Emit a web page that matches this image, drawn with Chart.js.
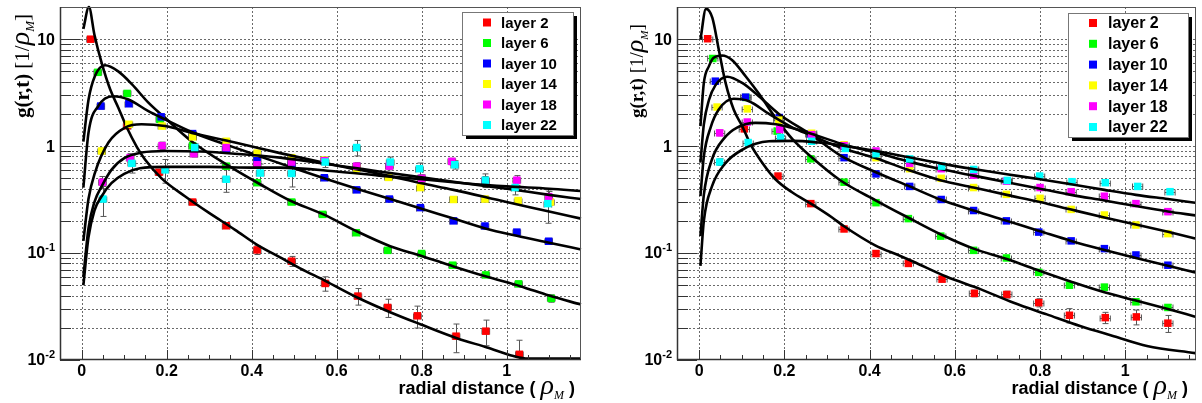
<!DOCTYPE html>
<html>
<head>
<meta charset="utf-8">
<script src="https://cdn.jsdelivr.net/npm/chart.js"></script>
<style>
  body { margin: 0; background: #fff; }
  #wrap { position: relative; width: 1202px; height: 403px; }
  canvas { position: absolute; top: 0; }
</style>
</head>
<body>
<div id="wrap">
  <canvas id="leftChart" width="600" height="403" style="left:0"></canvas>
  <canvas id="rightChart" width="602" height="403" style="left:600px"></canvas>
</div>
<script>
const layerNames = ['layer 2', 'layer 6', 'layer 10', 'layer 14', 'layer 18', 'layer 22'];
const layerColors = ['#ff0000', '#00ff00', '#0000ff', '#ffff00', '#ff00ff', '#00ffff'];
const xTickValues = [0, 0.2, 0.4, 0.6, 0.8, 1];
const xTickLabels = ['0', '0.2', '0.4', '0.6', '0.8', '1'];
const yTickValues = [0.01, 0.1, 1, 10];
const yTickLabels = [['10', '-2'], ['10', '-1'], ['1', ''], ['10', '']];

// ---- left panel, measured points (x, g, error) ----
const lx2 = [0.021, 0.107, 0.182, 0.261, 0.34, 0.413, 0.494, 0.573, 0.65, 0.72, 0.79, 0.881, 0.951, 1.03];
const ly2 = [10, 1.55, 0.57, 0.30, 0.18, 0.107, 0.084, 0.052, 0.0396, 0.031, 0.0259, 0.0167, 0.0186, 0.0113];
const le2 = [0.3, 0.05, 0.02, 0.01, 0.006, 0.01, 0.009, 0.008, 0.007, 0.006, 0.006, 0.005, 0.005, 0.004];
const lx6 = [0.038, 0.107, 0.184, 0.261, 0.34, 0.413, 0.494, 0.567, 0.646, 0.72, 0.80, 0.873, 0.951, 1.028, 1.105];
const ly6 = [4.9, 3.11, 1.78, 1.01, 0.65, 0.455, 0.30, 0.23, 0.155, 0.106, 0.099, 0.077, 0.0625, 0.0515, 0.0377];
const le6 = [0.25, 0.1, 0.06, 0.04, 0.03, 0.02, 0.012, 0.008, 0.006, 0.004, 0.004, 0.003, 0.003, 0.003, 0.003];
const lx10 = [0.045, 0.111, 0.187, 0.261, 0.34, 0.413, 0.494, 0.571, 0.647, 0.724, 0.797, 0.875, 0.949, 1.024, 1.099];
const ly10 = [2.37, 2.49, 1.88, 1.31, 0.92, 0.75, 0.68, 0.506, 0.39, 0.32, 0.266, 0.20, 0.179, 0.157, 0.129];
const le10 = [0.15, 0.1, 0.06, 0.04, 0.03, 0.03, 0.03, 0.02, 0.015, 0.01, 0.01, 0.008, 0.007, 0.007, 0.008];
const lx14 = [0.047, 0.111, 0.189, 0.261, 0.34, 0.413, 0.494, 0.571, 0.647, 0.722, 0.797, 0.875, 0.949, 1.027, 1.103];
const ly14 = [0.90, 1.6, 1.54, 1.22, 1.11, 0.86, 0.78, 0.74, 0.62, 0.51, 0.41, 0.317, 0.32, 0.31, 0.30];
const le14 = [0.06, 0.06, 0.06, 0.05, 0.05, 0.04, 0.04, 0.03, 0.03, 0.03, 0.02, 0.02, 0.02, 0.02, 0.02];
const lx18 = [0.049, 0.114, 0.189, 0.264, 0.34, 0.413, 0.494, 0.571, 0.647, 0.724, 0.8, 0.871, 0.95, 1.024, 1.099];
const ly18 = [0.46, 0.78, 1.01, 0.85, 0.97, 0.67, 0.71, 0.73, 0.65, 0.65, 0.50, 0.72, 0.47, 0.48, 0.337];
const le18 = [0.06, 0.07, 0.08, 0.06, 0.06, 0.05, 0.06, 0.05, 0.05, 0.05, 0.04, 0.05, 0.05, 0.05, 0.04];
const lx22 = [0.05, 0.118, 0.196, 0.266, 0.34, 0.42, 0.494, 0.573, 0.647, 0.726, 0.795, 0.878, 0.95, 1.02, 1.097];
const ly22 = [0.32, 0.69, 0.60, 0.97, 0.49, 0.56, 0.555, 0.71, 0.97, 0.71, 0.615, 0.67, 0.48, 0.41, 0.29];
const le22 = [0.1, 0.13, 0.15, 0.08, 0.12, 0.12, 0.14, 0.08, 0.16, 0.08, 0.08, 0.06, 0.07, 0.06, 0.1];

// ---- left panel, fitted curves ----
const lcx2 = [0.004, 0.017, 0.03, 0.047, 0.067, 0.086, 0.106, 0.13, 0.149, 0.188, 0.243, 0.298, 0.361, 0.412, 0.467, 0.514, 0.573, 0.651, 0.726, 0.797, 0.883, 0.954, 1.016, 1.05, 1.175];
const lcy2 = [12.5, 20, 11, 6.0, 3.4, 2.3, 1.5, 0.98, 0.75, 0.5, 0.34, 0.24, 0.165, 0.12, 0.091, 0.072, 0.055, 0.038, 0.028, 0.0216, 0.016, 0.0131, 0.0109, 0.0103, 0.0103];
const lcx6 = [0.004, 0.016, 0.031, 0.055, 0.086, 0.118, 0.157, 0.196, 0.26, 0.35, 0.42, 0.49, 0.569, 0.647, 0.726, 0.8, 0.875, 0.954, 1.032, 1.1, 1.175];
const lcy6 = [1.1, 2.7, 4.5, 5.7, 5.0, 3.8, 2.55, 1.84, 1.1, 0.64, 0.44, 0.31, 0.23, 0.16, 0.116, 0.094, 0.075, 0.06, 0.049, 0.04, 0.033];
const lcx10 = [0.004, 0.016, 0.039, 0.074, 0.11, 0.157, 0.196, 0.26, 0.35, 0.42, 0.5, 0.57, 0.647, 0.726, 0.8, 0.875, 0.95, 1.024, 1.1, 1.175];
const lcy10 = [0.41, 1.33, 2.37, 2.93, 2.73, 2.12, 1.78, 1.35, 1.0, 0.8, 0.62, 0.5, 0.4, 0.32, 0.26, 0.21, 0.17, 0.145, 0.125, 0.108];
const lcx14 = [0.004, 0.016, 0.031, 0.063, 0.102, 0.141, 0.196, 0.259, 0.361, 0.467, 0.6, 0.7, 0.8, 0.875, 1.0, 1.1, 1.175];
const lcy14 = [0.13, 0.32, 0.56, 1.08, 1.49, 1.6, 1.54, 1.33, 1.08, 0.86, 0.66, 0.55, 0.45, 0.39, 0.3, 0.245, 0.21];
const lcx18 = [0.004, 0.016, 0.03, 0.047, 0.07, 0.102, 0.141, 0.196, 0.28, 0.361, 0.467, 0.6, 0.7, 0.8, 0.9, 1.0, 1.1, 1.175];
const lcy18 = [0.06, 0.17, 0.3, 0.42, 0.6, 0.78, 0.87, 0.9, 0.89, 0.85, 0.78, 0.66, 0.58, 0.51, 0.45, 0.4, 0.35, 0.32];
const lcx22 = [0.004, 0.016, 0.03, 0.047, 0.07, 0.1, 0.137, 0.2, 0.3, 0.4, 0.467, 0.6, 0.7, 0.8, 0.9, 1.0, 1.1, 1.175];
const lcy22 = [0.05, 0.14, 0.25, 0.34, 0.45, 0.55, 0.62, 0.64, 0.64, 0.63, 0.63, 0.58, 0.53, 0.49, 0.45, 0.42, 0.4, 0.38];

// ---- right panel, measured points ----
const rx2 = [0.020, 0.106, 0.185, 0.262, 0.34, 0.415, 0.491, 0.57, 0.646, 0.722, 0.797, 0.869, 0.953, 1.026, 1.10];
const ry2 = [10.1, 1.45, 0.525, 0.29, 0.168, 0.099, 0.080, 0.057, 0.042, 0.041, 0.0344, 0.0262, 0.0249, 0.0253, 0.0221];
const re2 = [0.3, 0.05, 0.02, 0.01, 0.006, 0.005, 0.004, 0.003, 0.003, 0.003, 0.003, 0.004, 0.003, 0.004, 0.004];
const rx6 = [0.032, 0.11, 0.183, 0.262, 0.34, 0.415, 0.491, 0.567, 0.644, 0.721, 0.797, 0.869, 0.951, 1.025, 1.10];
const ry6 = [6.6, 2.85, 1.38, 0.76, 0.46, 0.296, 0.21, 0.144, 0.106, 0.09, 0.066, 0.050, 0.048, 0.035, 0.031];
const re6 = [0.2, 0.1, 0.05, 0.02, 0.01, 0.008, 0.006, 0.005, 0.004, 0.003, 0.003, 0.002, 0.003, 0.002, 0.002];
const rx10 = [0.038, 0.109, 0.188, 0.262, 0.34, 0.415, 0.494, 0.568, 0.644, 0.721, 0.797, 0.873, 0.951, 1.025, 1.10];
const ry10 = [4.05, 2.87, 1.85, 1.3, 0.78, 0.55, 0.42, 0.317, 0.25, 0.2, 0.157, 0.13, 0.11, 0.096, 0.077];
const re10 = [0.15, 0.1, 0.06, 0.04, 0.03, 0.02, 0.015, 0.01, 0.008, 0.007, 0.006, 0.005, 0.005, 0.004, 0.004];
const rx14 = [0.042, 0.113, 0.187, 0.264, 0.34, 0.415, 0.494, 0.568, 0.644, 0.721, 0.80, 0.873, 0.951, 1.025, 1.10];
const ry14 = [2.32, 2.23, 1.75, 1.32, 1.03, 0.78, 0.615, 0.50, 0.41, 0.354, 0.325, 0.256, 0.227, 0.183, 0.152];
const re14 = [0.1, 0.08, 0.06, 0.05, 0.04, 0.03, 0.02, 0.02, 0.015, 0.01, 0.01, 0.01, 0.01, 0.008, 0.008];
const rx18 = [0.048, 0.113, 0.189, 0.264, 0.34, 0.415, 0.494, 0.568, 0.644, 0.721, 0.80, 0.873, 0.951, 1.025, 1.10];
const ry18 = [1.33, 1.68, 1.43, 1.28, 1.01, 0.90, 0.69, 0.615, 0.535, 0.47, 0.41, 0.375, 0.34, 0.29, 0.244];
const re18 = [0.08, 0.06, 0.05, 0.04, 0.03, 0.03, 0.02, 0.02, 0.02, 0.02, 0.015, 0.015, 0.015, 0.015, 0.015];
const rx22 = [0.048, 0.115, 0.191, 0.264, 0.343, 0.415, 0.494, 0.569, 0.644, 0.723, 0.799, 0.875, 0.953, 1.029, 1.105];
const ry22 = [0.71, 1.08, 1.2, 1.11, 0.95, 0.85, 0.76, 0.65, 0.605, 0.478, 0.525, 0.465, 0.455, 0.42, 0.375];
const re22 = [0.05, 0.05, 0.05, 0.04, 0.04, 0.03, 0.03, 0.03, 0.03, 0.02, 0.02, 0.02, 0.02, 0.02, 0.02];

// ---- right panel, fitted curves ----
const rcx2 = [0.003, 0.016, 0.031, 0.046, 0.062, 0.081, 0.101, 0.12, 0.148, 0.179, 0.218, 0.265, 0.312, 0.34, 0.413, 0.472, 0.503, 0.581, 0.66, 0.738, 0.816, 0.894, 0.973, 1.051, 1.164];
const rcy2 = [9.9, 19.2, 15.8, 8.0, 3.9, 2.2, 1.54, 1.05, 0.70, 0.49, 0.37, 0.285, 0.215, 0.178, 0.118, 0.094, 0.083, 0.06, 0.046, 0.0343, 0.0267, 0.0208, 0.0167, 0.0135, 0.0116];
const rcx6 = [0.003, 0.011, 0.023, 0.034, 0.054, 0.077, 0.109, 0.14, 0.183, 0.22, 0.262, 0.331, 0.415, 0.49, 0.566, 0.644, 0.722, 0.8, 0.873, 0.951, 1.025, 1.1, 1.164];
const rcy6 = [1.54, 3.9, 5.6, 6.7, 7.05, 6.4, 4.5, 3.1, 1.75, 1.15, 0.8, 0.48, 0.31, 0.215, 0.15, 0.11, 0.088, 0.068, 0.054, 0.043, 0.036, 0.03, 0.0254];
const rcx10 = [0.003, 0.011, 0.023, 0.038, 0.066, 0.101, 0.14, 0.187, 0.26, 0.331, 0.415, 0.494, 0.566, 0.644, 0.722, 0.8, 0.873, 0.951, 1.025, 1.1, 1.164];
const rcy10 = [0.70, 1.6, 2.7, 3.7, 4.45, 3.9, 2.93, 2.0, 1.3, 0.82, 0.57, 0.42, 0.317, 0.25, 0.2, 0.16, 0.13, 0.107, 0.09, 0.076, 0.066];
const rcx14 = [0.003, 0.011, 0.027, 0.046, 0.081, 0.117, 0.164, 0.218, 0.265, 0.331, 0.415, 0.49, 0.566, 0.644, 0.722, 0.8, 0.873, 0.951, 1.025, 1.1, 1.164];
const rcy14 = [0.34, 0.8, 1.5, 2.2, 2.77, 2.63, 2.0, 1.5, 1.25, 0.97, 0.77, 0.6, 0.48, 0.41, 0.35, 0.3, 0.255, 0.215, 0.185, 0.158, 0.137];
const rcx18 = [0.003, 0.011, 0.03, 0.06, 0.09, 0.132, 0.18, 0.22, 0.265, 0.331, 0.36, 0.415, 0.49, 0.566, 0.644, 0.722, 0.8, 0.873, 0.951, 1.025, 1.1, 1.164];
const rcy18 = [0.144, 0.35, 0.75, 1.2, 1.5, 1.65, 1.6, 1.47, 1.3, 1.06, 0.98, 0.87, 0.72, 0.61, 0.53, 0.46, 0.4, 0.35, 0.31, 0.275, 0.245, 0.225];
const rcx22 = [0.003, 0.011, 0.03, 0.06, 0.1, 0.164, 0.22, 0.28, 0.331, 0.415, 0.49, 0.566, 0.644, 0.722, 0.8, 0.873, 0.951, 1.025, 1.1, 1.164];
const rcy22 = [0.076, 0.2, 0.42, 0.68, 0.92, 1.11, 1.12, 1.08, 1.02, 0.9, 0.79, 0.69, 0.61, 0.545, 0.49, 0.44, 0.39, 0.35, 0.32, 0.296];

function zip(xs, ys) { return xs.map((x, i) => ({x: x, y: ys[i]})); }

const serif = '"Liberation Serif", "DejaVu Serif", serif';
const sans = '"Liberation Sans", Arial, sans-serif';

// draws ROOT-like frame, dotted grid, inner ticks, labels, titles, error bars and legend
function rootLook(look) {
  return {
    id: 'rootLook',
    beforeDatasetsDraw(chart) {
      const ctx = chart.ctx, a = chart.chartArea;
      const xs = chart.scales.x, ys = chart.scales.y;
      ctx.save();
      ctx.beginPath();
      ctx.rect(a.left, a.top, a.right - a.left, a.bottom - a.top);
      ctx.clip();
      ctx.strokeStyle = '#6a6a6a';
      ctx.lineWidth = 1;
      ctx.setLineDash([2, 2]);
      ctx.beginPath();
      xTickValues.forEach(v => {
        const px = Math.round(xs.getPixelForValue(v)) + 0.5;
        ctx.moveTo(px, a.top); ctx.lineTo(px, a.bottom);
      });
      yTickValues.forEach(d => {
        for (let m = 1; m < 10; m++) {
          const v = d * m;
          if (v >= 20 || (d === 0.01 && m === 1)) continue;
          const py = Math.round(ys.getPixelForValue(v)) + 0.5;
          ctx.moveTo(a.left, py); ctx.lineTo(a.right, py);
        }
      });
      ctx.stroke();

      // error bars
      ctx.setLineDash([]);
      ctx.strokeStyle = '#555';
      ctx.beginPath();
      chart.data.datasets.forEach(ds => {
        if (!ds.errY) return;
        ds.data.forEach((p, i) => {
          const px = Math.round(xs.getPixelForValue(p.x)) + 0.5;
          const py = Math.round(ys.getPixelForValue(p.y)) + 0.5;
          const t = ys.getPixelForValue(p.y + ds.errY[i]);
          const b = Math.min(ys.getPixelForValue(Math.max(p.y - ds.errY[i], 0.001)), a.bottom);
          ctx.moveTo(px, t); ctx.lineTo(px, b);
          ctx.moveTo(px - 3, t); ctx.lineTo(px + 3, t);
          ctx.moveTo(px - 3, b); ctx.lineTo(px + 3, b);
          const l = xs.getPixelForValue(p.x - look.errX), r = xs.getPixelForValue(p.x + look.errX);
          ctx.moveTo(l, py); ctx.lineTo(r, py);
          ctx.moveTo(l, py - 3); ctx.lineTo(l, py + 3);
          ctx.moveTo(r, py - 3); ctx.lineTo(r, py + 3);
        });
      });
      ctx.stroke();
      ctx.restore();
    },
    afterDraw(chart) {
      const ctx = chart.ctx, a = chart.chartArea;
      const xs = chart.scales.x, ys = chart.scales.y;
      ctx.save();

      // ticks inside the frame
      ctx.strokeStyle = '#333';
      ctx.lineWidth = 1;
      ctx.beginPath();
      yTickValues.forEach(d => {
        for (let m = 1; m < 10; m++) {
          const v = d * m;
          if (v > 20) break;
          const py = Math.round(ys.getPixelForValue(v)) + 0.5;
          ctx.moveTo(a.left, py); ctx.lineTo(a.left + (m === 1 ? 20 : 11), py);
        }
      });
      for (let k = -1; k * 0.05 < xs.max; k++) {
        const px = Math.round(xs.getPixelForValue(k * 0.05)) + 0.5;
        if (px < a.left + 2) continue;
        ctx.moveTo(px, a.bottom); ctx.lineTo(px, a.bottom - (k % 4 === 0 ? 10 : 5));
      }
      ctx.stroke();

      // frame
      ctx.strokeStyle = '#555';
      ctx.strokeRect(a.left + 0.5, a.top + 0.5, a.right - a.left - 1, a.bottom - a.top - 1);
      ctx.strokeStyle = '#333';
      ctx.lineWidth = 1.5;
      ctx.beginPath();
      ctx.moveTo(a.left + 0.5, a.top); ctx.lineTo(a.left + 0.5, a.bottom - 0.5); ctx.lineTo(a.right, a.bottom - 0.5);
      ctx.stroke();

      // tick labels
      ctx.fillStyle = '#000';
      ctx.textBaseline = 'middle';
      ctx.textAlign = 'center';
      ctx.font = 'bold 16px ' + sans;
      xTickValues.forEach((v, i) => ctx.fillText(xTickLabels[i], xs.getPixelForValue(v), a.bottom + 12));
      ctx.textAlign = 'left';
      yTickValues.forEach((v, i) => {
        const base = yTickLabels[i][0], sup = yTickLabels[i][1];
        const py = ys.getPixelForValue(v) + 1;
        ctx.font = 'bold 11px ' + sans;
        const ws = sup ? ctx.measureText(sup).width : 0;
        ctx.font = 'bold 16px ' + sans;
        const wb = ctx.measureText(base).width;
        const x0 = a.left - 5 - ws - wb;
        ctx.fillText(base, x0, py);
        if (sup) {
          ctx.font = 'bold 11px ' + sans;
          ctx.fillText(sup, x0 + wb, py - 6);
        }
      });

      // x title
      const xParts = [
        {t: 'radial distance ( ', f: 'bold 18px ' + sans, dy: 0},
        {t: 'ρ', f: 'italic 28px ' + serif, dy: 0},
        {t: 'M', f: 'italic 12px ' + serif, dy: 5},
        {t: ' )', f: 'bold 18px ' + sans, dy: 0}
      ];
      ctx.textBaseline = 'alphabetic';
      let total = 0;
      xParts.forEach(p => { ctx.font = p.f; p.w = ctx.measureText(p.t).width; total += p.w; });
      let cx = look.xTitleRight - total;
      xParts.forEach(p => { ctx.font = p.f; ctx.fillText(p.t, cx, 394 + p.dy); cx += p.w; });

      // y title (rotated)
      const ys1 = look.yTitleSize;
      const yParts = [
        {t: 'g(r,t)', f: 'bold ' + ys1 + 'px ' + serif, dy: 0},
        {t: ' [1/', f: ys1 + 'px ' + serif, dy: 0},
        {t: 'ρ', f: 'italic ' + Math.round(ys1 * 1.35) + 'px ' + serif, dy: 0},
        {t: 'M', f: 'italic ' + Math.round(ys1 * 0.6) + 'px ' + serif, dy: 5},
        {t: ']', f: ys1 + 'px ' + serif, dy: 0}
      ];
      ctx.translate(look.yTitleX, 118);
      ctx.rotate(-Math.PI / 2);
      let tx = 0;
      yParts.forEach(p => { ctx.font = p.f; ctx.fillText(p.t, tx, p.dy); tx += ctx.measureText(p.t).width; });
      ctx.setTransform(1, 0, 0, 1, 0, 0);

      // legend with shadow
      const L = look.legend;
      ctx.fillStyle = '#000';
      ctx.fillRect(L.x + 4, L.y + 4, L.w, L.h);
      ctx.fillStyle = '#fff';
      ctx.fillRect(L.x, L.y, L.w, L.h);
      ctx.strokeStyle = '#777';
      ctx.lineWidth = 1;
      ctx.strokeRect(L.x + 0.5, L.y + 0.5, L.w, L.h);
      ctx.textBaseline = 'middle';
      ctx.textAlign = 'left';
      ctx.font = 'bold ' + L.font + 'px ' + sans;
      layerNames.forEach((n, i) => {
        const cy = L.row0 + i * L.rowH;
        ctx.fillStyle = layerColors[i];
        ctx.fillRect(L.markX - 4, cy - 4, 8, 8);
        ctx.fillStyle = '#000';
        ctx.fillText(n, L.textX, cy + 1);
      });
      ctx.restore();
    }
  };
}

function buildPanel(id, points, curves, look) {
  const datasets = [];
  let order = 100;
  points.forEach((p, i) => {
    datasets.push({
      data: zip(p[0], p[1]), errY: p[2], order: order--,
      pointStyle: 'rect', pointRadius: 5.3, backgroundColor: layerColors[i], borderWidth: 0
    });
    datasets.push({
      data: zip(curves[i][0], curves[i][1]), order: order--,
      showLine: true, pointRadius: 0, borderColor: '#000', borderWidth: 2.6,
      cubicInterpolationMode: 'monotone', fill: false, clip: false
    });
  });
  return new Chart(document.getElementById(id), {
    type: 'scatter',
    data: {datasets: datasets},
    options: {
      responsive: false, animation: false, devicePixelRatio: 1, events: [],
      layout: {padding: {left: 0, top: 7, right: look.padRight, bottom: 0}},
      plugins: {legend: {display: false}, tooltip: {enabled: false}},
      scales: {
        x: {
          type: 'linear', min: look.xMin, max: look.xMax,
          ticks: {display: false}, grid: {display: false}, border: {display: false},
          afterFit: s => { s.height = 43; }
        },
        y: {
          type: 'logarithmic', min: 0.01, max: 20,
          ticks: {display: false}, grid: {display: false}, border: {display: false},
          afterFit: s => { s.width = look.axisLeft; }
        }
      }
    },
    plugins: [rootLook(look)]
  });
}

buildPanel('leftChart',
  [[lx2, ly2, le2], [lx6, ly6, le6], [lx10, ly10, le10], [lx14, ly14, le14], [lx18, ly18, le18], [lx22, ly22, le22]],
  [[lcx2, lcy2], [lcx6, lcy6], [lcx10, lcy10], [lcx14, lcy14], [lcx18, lcy18], [lcx22, lcy22]],
  {
    xMin: -0.051, xMax: 1.175, axisLeft: 60, padRight: 19, errX: 0.009,
    xTitleRight: 575, yTitleX: 29, yTitleSize: 21,
    legend: {x: 462, y: 12, w: 111, h: 123, markX: 487, textX: 501, row0: 22.5, rowH: 20.5, font: 15}
  });

buildPanel('rightChart',
  [[rx2, ry2, re2], [rx6, ry6, re6], [rx10, ry10, re10], [rx14, ry14, re14], [rx18, ry18, re18], [rx22, ry22, re22]],
  [[rcx2, rcy2], [rcx6, rcy6], [rcx10, rcy10], [rcx14, rcy14], [rcx18, rcy18], [rcx22, rcy22]],
  {
    xMin: -0.052, xMax: 1.166, axisLeft: 77, padRight: 6, errX: 0.012,
    xTitleRight: 588, yTitleX: 43, yTitleSize: 19,
    legend: {x: 468, y: 13, w: 120, h: 124, markX: 493, textX: 508, row0: 23, rowH: 20.8, font: 16}
  });
</script>
</body>
</html>
